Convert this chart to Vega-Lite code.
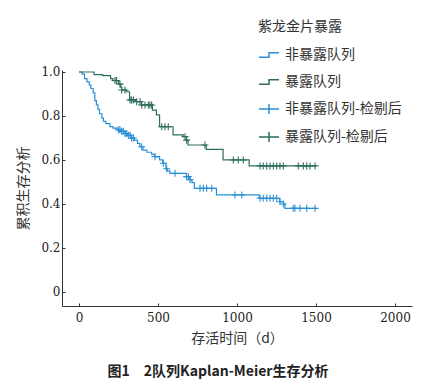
{
  "$schema": "https://vega.github.io/schema/vega-lite/v6.json",
  "width": 350,
  "height": 236,
  "autosize": {"type": "none"},
  "padding": {"left": 62, "top": 70, "right": 25, "bottom": 83},
  "background": "white",
  "config": {
    "view": {"stroke": null},
    "axis": {"grid": false, "domainColor": "#333", "tickColor": "#333", "labelColor": "#222", "titleColor": "#333", "labelFontSize": 14, "titleFontWeight": "normal", "titleFontSize": 14, "titleFont": "Noto Sans CJK SC"}
  },
  "title": {"text": "图1　2队列Kaplan-Meier生存分析", "orient": "bottom", "offset": 20, "dx": -19, "fontSize": 14, "fontWeight": "bold", "font": "Noto Sans CJK SC", "color": "#222"},
  "datasets": {
    "curves": [
      {"series": "非暴露队列", "t": 0, "s": 1.0},
      {"series": "非暴露队列", "t": 20, "s": 0.99},
      {"series": "非暴露队列", "t": 35, "s": 0.97},
      {"series": "非暴露队列", "t": 50, "s": 0.955},
      {"series": "非暴露队列", "t": 65, "s": 0.94},
      {"series": "非暴露队列", "t": 75, "s": 0.925},
      {"series": "非暴露队列", "t": 90, "s": 0.905},
      {"series": "非暴露队列", "t": 100, "s": 0.87},
      {"series": "非暴露队列", "t": 110, "s": 0.85},
      {"series": "非暴露队列", "t": 120, "s": 0.83},
      {"series": "非暴露队列", "t": 130, "s": 0.81},
      {"series": "非暴露队列", "t": 145, "s": 0.79},
      {"series": "非暴露队列", "t": 155, "s": 0.775},
      {"series": "非暴露队列", "t": 170, "s": 0.765},
      {"series": "非暴露队列", "t": 195, "s": 0.752},
      {"series": "非暴露队列", "t": 215, "s": 0.745},
      {"series": "非暴露队列", "t": 240, "s": 0.737},
      {"series": "非暴露队列", "t": 265, "s": 0.73},
      {"series": "非暴露队列", "t": 290, "s": 0.72},
      {"series": "非暴露队列", "t": 305, "s": 0.712},
      {"series": "非暴露队列", "t": 330, "s": 0.7},
      {"series": "非暴露队列", "t": 350, "s": 0.69},
      {"series": "非暴露队列", "t": 370, "s": 0.675},
      {"series": "非暴露队列", "t": 385, "s": 0.66},
      {"series": "非暴露队列", "t": 405, "s": 0.645},
      {"series": "非暴露队列", "t": 430, "s": 0.635},
      {"series": "非暴露队列", "t": 460, "s": 0.625},
      {"series": "非暴露队列", "t": 480, "s": 0.615},
      {"series": "非暴露队列", "t": 510, "s": 0.6},
      {"series": "非暴露队列", "t": 530, "s": 0.585},
      {"series": "非暴露队列", "t": 550, "s": 0.56},
      {"series": "非暴露队列", "t": 560, "s": 0.55},
      {"series": "非暴露队列", "t": 575, "s": 0.539},
      {"series": "非暴露队列", "t": 680, "s": 0.524},
      {"series": "非暴露队列", "t": 700, "s": 0.51},
      {"series": "非暴露队列", "t": 715, "s": 0.497},
      {"series": "非暴露队列", "t": 730, "s": 0.471},
      {"series": "非暴露队列", "t": 870, "s": 0.441},
      {"series": "非暴露队列", "t": 1140, "s": 0.426},
      {"series": "非暴露队列", "t": 1270, "s": 0.41},
      {"series": "非暴露队列", "t": 1295, "s": 0.4},
      {"series": "非暴露队列", "t": 1303, "s": 0.38},
      {"series": "非暴露队列", "t": 1500, "s": 0.38},
      {"series": "暴露队列", "t": 0, "s": 1.0},
      {"series": "暴露队列", "t": 95, "s": 0.988},
      {"series": "暴露队列", "t": 150, "s": 0.983},
      {"series": "暴露队列", "t": 200, "s": 0.97},
      {"series": "暴露队列", "t": 215, "s": 0.961},
      {"series": "暴露队列", "t": 250, "s": 0.945},
      {"series": "暴露队列", "t": 265, "s": 0.93},
      {"series": "暴露队列", "t": 270, "s": 0.918},
      {"series": "暴露队列", "t": 300, "s": 0.91},
      {"series": "暴露队列", "t": 320, "s": 0.873},
      {"series": "暴露队列", "t": 360, "s": 0.865},
      {"series": "暴露队列", "t": 395, "s": 0.85},
      {"series": "暴露队列", "t": 465, "s": 0.827},
      {"series": "暴露队列", "t": 490, "s": 0.805},
      {"series": "暴露队列", "t": 510, "s": 0.751},
      {"series": "暴露队列", "t": 595, "s": 0.714},
      {"series": "暴露队列", "t": 660, "s": 0.706},
      {"series": "暴露队列", "t": 680, "s": 0.69},
      {"series": "暴露队列", "t": 690, "s": 0.668},
      {"series": "暴露队列", "t": 805, "s": 0.648},
      {"series": "暴露队列", "t": 912, "s": 0.6},
      {"series": "暴露队列", "t": 1077, "s": 0.573},
      {"series": "暴露队列", "t": 1500, "s": 0.573}
    ],
    "censors": [
      {"series": "非暴露队列-检剔后", "t": 249, "s": 0.737},
      {"series": "非暴露队列-检剔后", "t": 259, "s": 0.737},
      {"series": "非暴露队列-检剔后", "t": 270, "s": 0.73},
      {"series": "非暴露队列-检剔后", "t": 280, "s": 0.73},
      {"series": "非暴露队列-检剔后", "t": 291, "s": 0.72},
      {"series": "非暴露队列-检剔后", "t": 302, "s": 0.72},
      {"series": "非暴露队列-检剔后", "t": 312, "s": 0.712},
      {"series": "非暴露队列-检剔后", "t": 323, "s": 0.712},
      {"series": "非暴露队列-检剔后", "t": 333, "s": 0.7},
      {"series": "非暴露队列-检剔后", "t": 344, "s": 0.7},
      {"series": "非暴露队列-检剔后", "t": 397, "s": 0.66},
      {"series": "非暴露队列-检剔后", "t": 481, "s": 0.615},
      {"series": "非暴露队列-检剔后", "t": 534, "s": 0.585},
      {"series": "非暴露队列-检剔后", "t": 555, "s": 0.56},
      {"series": "非暴露队列-检剔后", "t": 608, "s": 0.539},
      {"series": "非暴露队列-检剔后", "t": 681, "s": 0.524},
      {"series": "非暴露队列-检剔后", "t": 692, "s": 0.524},
      {"series": "非暴露队列-检剔后", "t": 703, "s": 0.51},
      {"series": "非暴露队列-检剔后", "t": 766, "s": 0.471},
      {"series": "非暴露队列-检剔后", "t": 787, "s": 0.471},
      {"series": "非暴露队列-检剔后", "t": 808, "s": 0.471},
      {"series": "非暴露队列-检剔后", "t": 840, "s": 0.471},
      {"series": "非暴露队列-检剔后", "t": 987, "s": 0.441},
      {"series": "非暴露队列-检剔后", "t": 1030, "s": 0.441},
      {"series": "非暴露队列-检剔后", "t": 1146, "s": 0.426},
      {"series": "非暴露队列-检剔后", "t": 1166, "s": 0.426},
      {"series": "非暴露队列-检剔后", "t": 1188, "s": 0.426},
      {"series": "非暴露队列-检剔后", "t": 1209, "s": 0.426},
      {"series": "非暴露队列-检剔后", "t": 1230, "s": 0.426},
      {"series": "非暴露队列-检剔后", "t": 1251, "s": 0.426},
      {"series": "非暴露队列-检剔后", "t": 1272, "s": 0.41},
      {"series": "非暴露队列-检剔后", "t": 1293, "s": 0.4},
      {"series": "非暴露队列-检剔后", "t": 1356, "s": 0.38},
      {"series": "非暴露队列-检剔后", "t": 1367, "s": 0.38},
      {"series": "非暴露队列-检剔后", "t": 1399, "s": 0.38},
      {"series": "非暴露队列-检剔后", "t": 1441, "s": 0.38},
      {"series": "非暴露队列-检剔后", "t": 1494, "s": 0.38},
      {"series": "暴露队列-检剔后", "t": 228, "s": 0.961},
      {"series": "暴露队列-检剔后", "t": 238, "s": 0.961},
      {"series": "暴露队列-检剔后", "t": 259, "s": 0.945},
      {"series": "暴露队列-检剔后", "t": 270, "s": 0.918},
      {"series": "暴露队列-检剔后", "t": 291, "s": 0.918},
      {"series": "暴露队列-检剔后", "t": 323, "s": 0.873},
      {"series": "暴露队列-检剔后", "t": 333, "s": 0.873},
      {"series": "暴露队列-检剔后", "t": 344, "s": 0.873},
      {"series": "暴露队列-检剔后", "t": 365, "s": 0.865},
      {"series": "暴露队列-检剔后", "t": 386, "s": 0.865},
      {"series": "暴露队列-检剔后", "t": 397, "s": 0.85},
      {"series": "暴露队列-检剔后", "t": 418, "s": 0.85},
      {"series": "暴露队列-检剔后", "t": 439, "s": 0.85},
      {"series": "暴露队列-检剔后", "t": 449, "s": 0.85},
      {"series": "暴露队列-检剔后", "t": 460, "s": 0.85},
      {"series": "暴露队列-检剔后", "t": 523, "s": 0.751},
      {"series": "暴露队列-检剔后", "t": 544, "s": 0.751},
      {"series": "暴露队列-检剔后", "t": 565, "s": 0.751},
      {"series": "暴露队列-检剔后", "t": 671, "s": 0.706},
      {"series": "暴露队列-检剔后", "t": 681, "s": 0.69},
      {"series": "暴露队列-检剔后", "t": 797, "s": 0.668},
      {"series": "暴露队列-检剔后", "t": 977, "s": 0.6},
      {"series": "暴露队列-检剔后", "t": 1008, "s": 0.6},
      {"series": "暴露队列-检剔后", "t": 1040, "s": 0.6},
      {"series": "暴露队列-检剔后", "t": 1146, "s": 0.573},
      {"series": "暴露队列-检剔后", "t": 1166, "s": 0.573},
      {"series": "暴露队列-检剔后", "t": 1188, "s": 0.573},
      {"series": "暴露队列-检剔后", "t": 1209, "s": 0.573},
      {"series": "暴露队列-检剔后", "t": 1230, "s": 0.573},
      {"series": "暴露队列-检剔后", "t": 1251, "s": 0.573},
      {"series": "暴露队列-检剔后", "t": 1272, "s": 0.573},
      {"series": "暴露队列-检剔后", "t": 1293, "s": 0.573},
      {"series": "暴露队列-检剔后", "t": 1388, "s": 0.573},
      {"series": "暴露队列-检剔后", "t": 1420, "s": 0.573},
      {"series": "暴露队列-检剔后", "t": 1441, "s": 0.573},
      {"series": "暴露队列-检剔后", "t": 1462, "s": 0.573},
      {"series": "暴露队列-检剔后", "t": 1494, "s": 0.573}
    ]
  },
  "encoding": {
    "x": {"field": "t", "type": "quantitative", "scale": {"domain": [-107.6, 2107.6], "nice": false, "zero": false},
      "axis": {"values": [0, 500, 1000, 1500, 2000], "format": "d", "title": "存活时间（d）", "tickSize": -3, "labelPadding": 9, "titlePadding": 8, "labelFlush": false, "labelFont": "DejaVu Serif", "labelFontSize": 12}},
    "y": {"field": "s", "type": "quantitative", "scale": {"domain": [-0.064, 1.009], "nice": false, "zero": false},
      "axis": {"values": [0, 0.2, 0.4, 0.6, 0.8, 1.0], "title": "累积生存分析", "tickSize": -3, "labelPadding": 5, "titlePadding": 10, "labelFlush": false, "labelFont": "DejaVu Serif", "labelFontSize": 12,
        "labelExpr": "datum.value == 0 ? '0' : format(datum.value, '.1f')"}},
    "color": {"field": "series", "type": "nominal",
      "scale": {"domain": ["非暴露队列", "暴露队列", "非暴露队列-检剔后", "暴露队列-检剔后"], "range": ["#2b8fd6", "#2e6e5e", "#2b8fd6", "#2e6e5e"]},
      "legend": {"title": "紫龙金片暴露", "orient": "none", "legendX": 196, "legendY": -50, "titleFontSize": 14, "titleFontWeight": "normal", "titleFont": "Noto Sans CJK SC", "titleColor": "#333", "titlePadding": 10, "labelFontSize": 14, "labelFont": "Noto Sans CJK SC", "labelColor": "#333", "rowPadding": 9, "symbolStrokeWidth": 1.5, "symbolSize": 400, "labelOffset": 5,
        "encode": {"symbols": {"update": {"shape": {"signal": "indexof(datum.label, '检剔') >= 0 ? 'M-1,0H1M0,-0.5V0.5' : 'M-1,0.22H0V-0.22H1'"}}}}}
    }
  },
  "layer": [
    {"data": {"name": "curves"}, "mark": {"type": "line", "interpolate": "step-after", "strokeWidth": 1.2}},
    {"data": {"name": "censors"}, "mark": {"type": "point", "filled": false, "strokeWidth": 1.1, "size": 49, "shape": "M-1,0H1M0,-1V1", "opacity": 1}}
  ]
}
